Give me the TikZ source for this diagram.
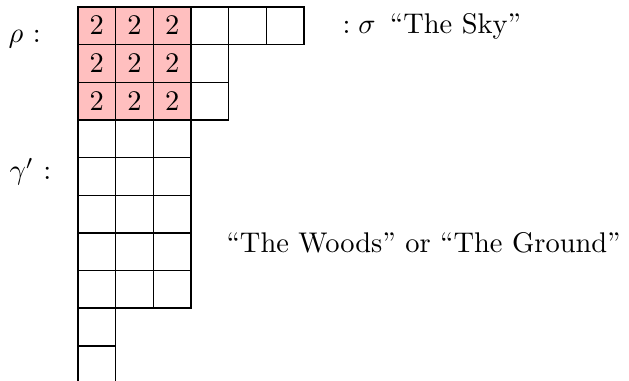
\documentclass[tikz,border=0pt]{standalone}
\begin{document}
\begin{tikzpicture}[x=0.3515pt,y=-0.3515pt,
  cellbox/.style={draw=black, line width=0.5pt, minimum width=13.23pt, minimum height=13.23pt, inner sep=0pt, outer sep=0pt},
  pinkbox/.style={cellbox, fill=red!25},
  lbl/.style={inner sep=0pt, anchor=base west}]
\useasboundingbox (0,0) rectangle (629,381);
\clip (0,0) rectangle (629,381);
\def\cs{37.65}
% rows: row index / number of cells
\foreach \r/\n in {0/6,1/4,2/4,3/3,4/3,5/3,6/3,7/3,8/1,9/1}{
  \foreach \k in {1,...,\n}{
    \pgfmathsetmacro{\cx}{78+\cs*(\k-1)+\cs/2}
    \pgfmathsetmacro{\cy}{7+\cs*\r+\cs/2}
    \ifnum\r<3
      \ifnum\k<4
        \node[pinkbox] (c\r-\k) at (\cx,\cy) {$2$};
      \else
        \node[cellbox] (c\r-\k) at (\cx,\cy) {};
      \fi
    \else
      \node[cellbox] (c\r-\k) at (\cx,\cy) {};
    \fi
  }
}
\node[lbl] (rho) at (8,43) {$\rho$ :};
\node[lbl] (gam) at (9,180) {$\gamma'$ :};
\node[lbl] (sky) at (342,34) {$:\sigma$\hspace{5pt}``The Sky''};
\node[lbl] (woods) at (226,253) {``The Woods'' or ``The Ground''};
\end{tikzpicture}
\end{document}
